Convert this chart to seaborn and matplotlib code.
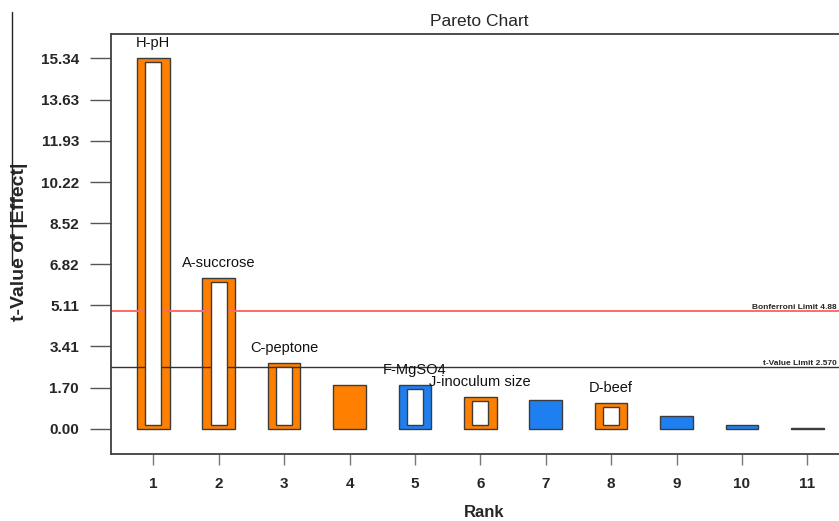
import matplotlib
matplotlib.use("Agg")
import matplotlib.pyplot as plt
from matplotlib.lines import Line2D
import seaborn as sns
import pandas as pd

# Ranked effects (absolute t-values) from the factorial screening
rank = [1, 2, 3, 4, 5, 6, 7, 8, 9, 10, 11]
t_value = [15.34, 6.23, 2.74, 1.81, 1.81, 1.31, 1.19, 1.08, 0.54, 0.17, 0.03]
effect_sign = ["positive", "positive", "positive", "positive", "negative", "positive",
               "negative", "positive", "negative", "negative", "negative"]
term_label = ["H-pH", "A-succrose", "C-peptone", "", "F-MgSO4", "J-inoculum size",
              "", "D-beef", "", "", ""]
in_model = [True, True, True, False, True, True, False, True, False, False, False]
y_ticks = [0.00, 1.70, 3.41, 5.11, 6.82, 8.52, 10.22, 11.93, 13.63, 15.34]
bonferroni_limit = 4.88
t_limit = 2.570

sns.set_style("white")
font = ["Liberation Sans", "DejaVu Sans"]
plt.rcParams["font.family"] = font

df = pd.DataFrame({"rank": rank, "t": t_value, "sign": effect_sign})

ORANGE = "#FF8000"
BLUE = "#1E80F0"
EDGE = "#3C3C3C"
SPINE = "#404040"

fig = plt.figure(figsize=(8.39, 5.21), dpi=100)
ax = fig.add_axes([0.1323, 0.1292, 0.8767, 0.8056])

sns.barplot(data=df, x="rank", y="t", hue="sign",
            palette={"positive": ORANGE, "negative": BLUE}, saturation=1,
            native_scale=True, width=0.5, dodge=False, errorbar=None,
            edgecolor=EDGE, linewidth=1.0, legend=False, ax=ax)

# white cores mark the terms kept in the model
inset = 0.17
core_x = [r for r, keep in zip(rank, in_model) if keep]
core_h = [v - 2 * inset for v, keep in zip(t_value, in_model) if keep]
ax.bar(core_x, core_h, bottom=inset, width=0.245, color="white",
       edgecolor=EDGE, linewidth=1.0, zorder=3)

# term names above the bars
for r, v, name in zip(rank, t_value, term_label):
    if name:
        ax.annotate(name, xy=(r, v), xytext=(0, 8), textcoords="offset points",
                    ha="center", va="baseline", fontsize=10.5,
                    color="#111111", zorder=4)

# significance limits
ax.axhline(bonferroni_limit, color="#FF6A6A", linewidth=1.4, zorder=1)
ax.axhline(t_limit, color="#333333", linewidth=1.0, zorder=1)
ax.text(0.987, bonferroni_limit, f"Bonferroni Limit {bonferroni_limit:.2f}",
        transform=ax.get_yaxis_transform(), ha="right", va="bottom",
        fontsize=6, fontweight="bold")
ax.text(0.987, t_limit, f"t-Value Limit {t_limit:.3f}",
        transform=ax.get_yaxis_transform(), ha="right", va="bottom",
        fontsize=6, fontweight="bold")

ax.set_xlim(0.353, 11.6)
ax.set_ylim(-1.03, 16.35)
ax.set_xticks(rank)
ax.set_xticklabels([str(r) for r in rank], fontsize=11, fontweight="bold")
ax.set_yticks(y_ticks)
ax.set_yticklabels([f"{t:.2f}" for t in y_ticks], fontsize=11, fontweight="bold")
ax.tick_params(axis="y", direction="out", length=15, width=1.0, color="#555555", pad=8, left=True)
ax.tick_params(axis="x", direction="out", length=8, width=1.0, color="#777777", pad=9, bottom=True)

for side in ["left", "bottom", "top"]:
    ax.spines[side].set_visible(True)
    ax.spines[side].set_color(SPINE)
    ax.spines[side].set_linewidth(1.3)
ax.spines["right"].set_visible(False)

ax.set_title("Pareto Chart", fontsize=12.5, pad=6)
ax.set_xlabel("Rank", fontsize=12, fontweight="bold")
ax.set_ylabel("t-Value of |Effect|", fontsize=14, fontweight="bold")
ax.xaxis.set_label_coords(0.507, -0.139)
ax.yaxis.set_label_coords(-0.124, 0.504)
ax.xaxis.label.set_verticalalignment("center")
ax.yaxis.label.set_verticalalignment("center")

fig.add_artist(Line2D([12 / 839, 12 / 839], [1 - 12 / 521, 1 - 265 / 521],
                      transform=fig.transFigure, color="#222222", linewidth=1.0))

fig.savefig("out.png", dpi=100)
